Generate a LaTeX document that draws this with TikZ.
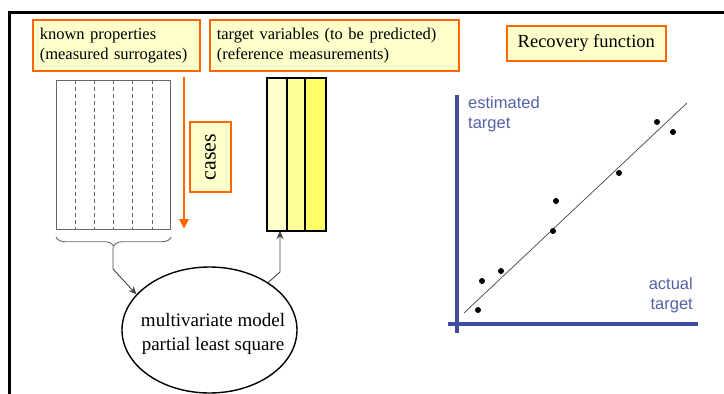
\documentclass[tikz,border=0pt]{standalone}
\usepackage{fontspec}
\setmainfont{Liberation Serif}
\newfontfamily\axisfont{Liberation Sans}
\usetikzlibrary{shapes.geometric,decorations.pathreplacing,arrows.meta}
\definecolor{boxfill}{HTML}{FFFFCC}
\definecolor{boxline}{HTML}{FF6600}
\definecolor{colA}{HTML}{FFFFCC}
\definecolor{colB}{HTML}{FFFF99}
\definecolor{colC}{HTML}{FFFF66}
\definecolor{axisblue}{HTML}{3F4D9C}
\definecolor{labelblue}{HTML}{5462A8}
\definecolor{matgray}{HTML}{666666}
\definecolor{conngray}{HTML}{444444}
\begin{document}
\begin{tikzpicture}[x=1pt,y=-1pt,
  labelbox/.style={draw=boxline, fill=boxfill, line width=1.6pt, inner sep=0pt, anchor=north west},
  colbox/.style={draw=black, line width=1.6pt, anchor=north west, minimum height=153pt, inner sep=0pt},
  conn/.style={draw=conngray, line width=0.9pt, -{Stealth[length=8pt,width=7pt]}},
  axisline/.style={draw=axisblue, line width=4pt},
  pt/.style={fill=black, circle, inner sep=0pt, minimum size=6pt},
  axislabel/.style={text=labelblue, font=\axisfont\fontsize{16.5}{20}\selectfont, inner sep=0pt}]
\useasboundingbox (0,0) rectangle (724,394);
% frame
\draw[line width=3pt] (724,12.5) -- (9.5,12.5) -- (9.5,394);
% label boxes
\node[labelbox, minimum width=167pt, minimum height=51pt, text width=153pt, align=left,
  font=\fontsize{16.5}{20}\selectfont] (known) at (32,19) {known properties\\(measured surrogates)};
\node[labelbox, minimum width=249pt, minimum height=51pt, text width=235pt, align=left,
  font=\fontsize{16.5}{20}\selectfont] (target) at (209,19) {target variables (to be predicted)\\(reference measurements)};
\node[labelbox, minimum width=159pt, minimum height=35pt, align=center,
  font=\fontsize{18.5}{22}\selectfont] (recov) at (506,25) {Recovery function};
% data matrix
\node[draw=matgray, line width=1.2pt, minimum width=114pt, minimum height=149pt, inner sep=0pt, anchor=north west] (mat) at (56,80) {};
\foreach \xx in {75,94,113,132,152}
  \draw[matgray, line width=0.9pt, dash pattern=on 4pt off 3pt] (\xx,80) -- (\xx,229);
% brace
\draw[matgray, line width=0.9pt, decorate, decoration={brace, mirror, amplitude=9pt}]
  (mat.south west) ++(0,7) coordinate (bl) (mat.south east) ++(0,7) coordinate (br)
  (bl) -- (br);
\coordinate (btip) at (113,247);
% cases arrow and box
\coordinate (caseTop) at (184,77);
\coordinate (caseBot) at (184,229);
\draw[boxline, line width=2.6pt, -{Triangle[length=10pt,width=9pt]}] (caseTop) -- (caseBot);
\node[labelbox, anchor=center, rotate=90, minimum width=70pt, minimum height=41pt,
  font=\fontsize{22}{24}\selectfont] (cases) at (210.5,157) {cases};
% target columns
\node[colbox, fill=colA, minimum width=20pt] (c1) at (266,77) {};
\node[colbox, fill=colB, minimum width=18pt] (c2) at (286,77) {};
\node[colbox, fill=colC, minimum width=21pt] (c3) at (304,77) {};
% model ellipse
\node[ellipse, draw, line width=1.4pt, minimum width=175pt, minimum height=126pt,
  inner sep=0pt] (ell) at (209.5,330) {};
\node[align=center, inner sep=0pt, font=\fontsize{19}{24}\selectfont] (elltext) at (213,334) {multivariate model\\partial least square};
% connectors
\coordinate (bend1) at (113,269);
\draw[conn] (btip) -- (bend1) -- (ell.154);
\coordinate (bend2) at (280,272);
\coordinate (colin) at (280,231);
\draw[conn] (ell.39) -- (bend2) -- (colin);
% plot
\coordinate (yTop) at (457,95);
\coordinate (yBot) at (457,333);
\coordinate (xL) at (448,324);
\coordinate (xR) at (698,324);
\draw[axisline] (yTop) -- (yBot);
\draw[axisline] (xL) -- (xR);
\coordinate (r1) at (464,313);
\coordinate (r2) at (687,103);
\draw[conngray, line width=0.7pt] (r1) -- (r2);
\foreach \px/\py [count=\i] in {478/310,482/281,501/271,553/231,556/201,619/173,657/122,673/132}
  \node[pt] (p\i) at (\px,\py) {};
\node[axislabel, align=left, anchor=north west] (est) at (468,96) {estimated\\target};
\node[axislabel, align=right, anchor=north east] (act) at (693,277) {actual\\target};
\end{tikzpicture}
\end{document}
